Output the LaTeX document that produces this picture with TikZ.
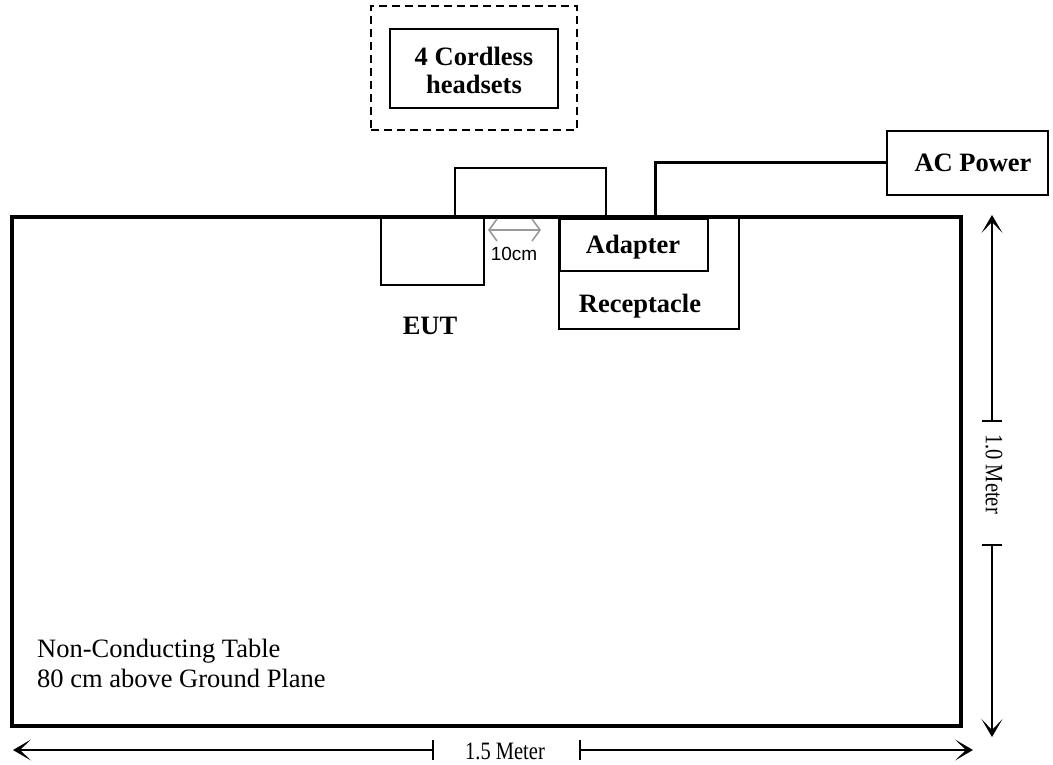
\documentclass[tikz,border=0pt]{standalone}
\usepackage{fontspec}
\setmainfont{Liberation Serif}
\newfontfamily\arialfont{Liberation Sans}
\usetikzlibrary{arrows.meta}
\begin{document}
\begin{tikzpicture}[x=1pt,y=-1pt,
  box/.style={draw, line width=2pt, inner sep=0pt, outer sep=0pt},
  tablebox/.style={draw, line width=3.5pt, inner sep=0pt, outer sep=0pt},
  dashbox/.style={draw, line width=2pt, dash pattern=on 8pt off 5pt, inner sep=0pt, outer sep=0pt},
  boldlbl/.style={font=\fontsize{26.5}{28}\selectfont\bfseries, inner sep=0pt, align=center},
  plainlbl/.style={font=\fontsize{26.5}{30}\selectfont, inner sep=0pt},
  dimlbl/.style={font=\fontsize{25}{27}\selectfont, inner sep=0pt},
  cable/.style={line width=3pt},
  dimline/.style={line width=2pt},
  dimtip/.style={line width=2pt, -{Stealth[length=18pt,width=21pt,inset=11pt,line width=1.5pt]}},
  gapdim/.style={draw=black!40, line width=1.6pt, {Straight Barb[length=8pt,width=22pt]}-{Straight Barb[length=8pt,width=22pt]}},
  smalllbl/.style={font=\arialfont\fontsize{19}{21}\selectfont, inner sep=0pt}
]
\useasboundingbox (0,0) rectangle (1053,765);

% headsets
\node[dashbox, minimum width=206pt, minimum height=124pt] (dash) at (474,68) {};
\node[box, minimum width=168pt, minimum height=79pt] (heads) at (474,68.5) {};
\node[boldlbl] (headslbl) at (474,70) {4 Cordless\\headsets};

% table
\node[tablebox, minimum width=949pt, minimum height=509pt] (table) at (486.5,471.5) {};

% AC power
\node[box, minimum width=161pt, minimum height=64pt] (ac) at (967.5,163) {};
\node[boldlbl, anchor=base] (aclbl) at (973,172) {AC Power};

% EUT
\node[box, minimum width=103pt, minimum height=68pt] (eut) at (432.5,251) {};
\node[boldlbl, anchor=base] (eutlbl) at (430,334) {EUT};

% receptacle and adapter
\node[box, minimum width=180pt, minimum height=111pt] (rec) at (649,273.5) {};
\node[box, minimum width=148pt, minimum height=52pt] (adp) at (634,245) {};
\node[boldlbl, anchor=base] (adplbl) at (633,253) {Adapter};
\node[boldlbl, anchor=base] (reclbl) at (640,312) {Receptacle};

% cable EUT - adapter (bump)
\coordinate (b1) at (455,216);
\coordinate (b2) at (455,168);
\coordinate (b3) at (606,168);
\coordinate (b4) at (606,216);
\draw[line width=2pt] (b1) -- (b2) -- (b3) -- (b4);

% power cable
\coordinate (c1) at (655,217);
\coordinate (c2) at (655,163);
\draw[cable] (c1) -- (c2) -- (ac.west);

% 10 cm gap
\coordinate (g1) at (488,230);
\coordinate (g2) at (541,230);
\draw[gapdim] (g1) -- (g2);
\node[smalllbl, anchor=base] (gaplbl) at (514,260) {10cm};

% horizontal dimension
\coordinate (hl) at (13,750);
\coordinate (hlt) at (433,750);
\coordinate (hr) at (973,750);
\coordinate (hrt) at (580,750);
\draw[dimtip] (hlt) -- (hl);
\draw[dimtip] (hrt) -- (hr);
\draw[dimline] ([yshift=-10pt]hlt) -- ([yshift=10pt]hlt);
\draw[dimline] ([yshift=-10pt]hrt) -- ([yshift=10pt]hrt);
\node[dimlbl, anchor=base] (hlbl) at (505,759) {\scalebox{0.82}[1]{1.5 Meter}};

% vertical dimension
\coordinate (vt) at (992,215);
\coordinate (vtt) at (992,421);
\coordinate (vb) at (992,737);
\coordinate (vbt) at (992,545);
\draw[dimtip] (vtt) -- (vt);
\draw[dimtip] (vbt) -- (vb);
\draw[dimline] ([xshift=-10pt]vtt) -- ([xshift=10pt]vtt);
\draw[dimline] ([xshift=-10pt]vbt) -- ([xshift=10pt]vbt);
\node[dimlbl, rotate=-90] (vlbl) at (994,474) {\scalebox{0.82}[1]{1.0 Meter}};

% table text
\node[plainlbl, anchor=base west] (t1) at (37,657) {Non-Conducting Table};
\node[plainlbl, anchor=base west] (t2) at (37,687) {80 cm above Ground Plane};
\end{tikzpicture}
\end{document}
